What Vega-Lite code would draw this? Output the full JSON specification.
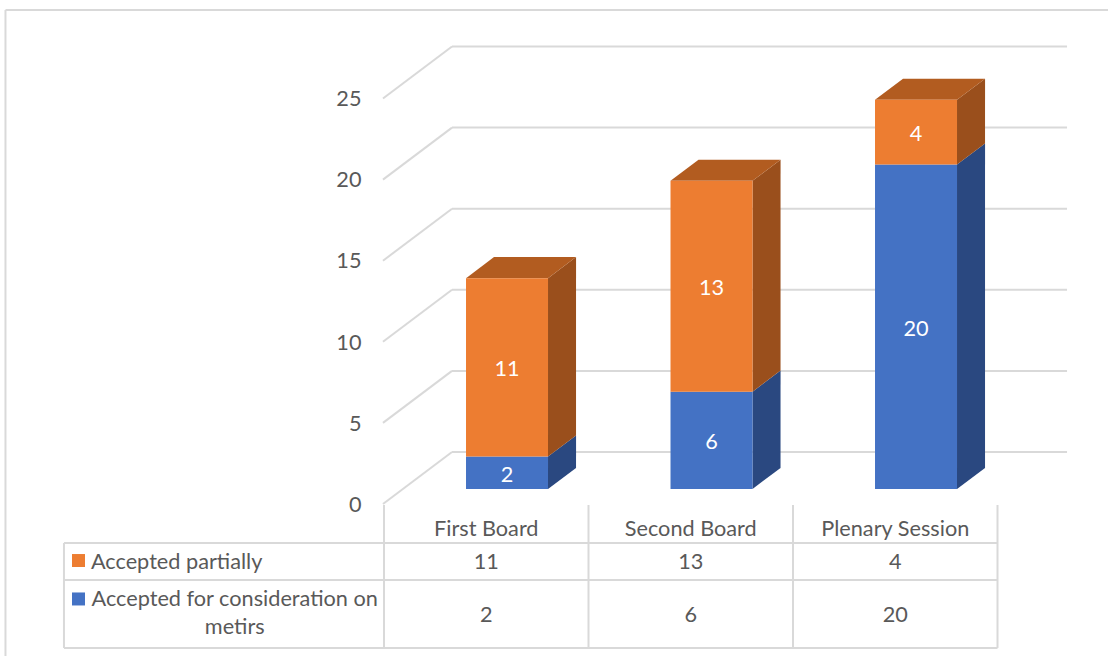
{
  "$schema": "https://vega.github.io/schema/vega-lite/v6.json",
  "width": 1108,
  "height": 656,
  "autosize": "none",
  "padding": 0,
  "background": "white",
  "config": {
    "view": {"stroke": null},
    "axis": {"disable": true},
    "legend": {"disable": true},
    "text": {"font": "Lato", "fontSize": 21.7, "color": "#595959", "baseline": "middle", "dy": 2},
    "rule": {"color": "#D9D9D9", "strokeWidth": 2}
  },
  "datasets": {
    "segments": [
      {"board": "First Board", "series": "Accepted for consideration on metirs", "value": 2},
      {"board": "First Board", "series": "Accepted partially", "value": 11},
      {"board": "Second Board", "series": "Accepted for consideration on metirs", "value": 6},
      {"board": "Second Board", "series": "Accepted partially", "value": 13},
      {"board": "Plenary Session", "series": "Accepted for consideration on metirs", "value": 20},
      {"board": "Plenary Session", "series": "Accepted partially", "value": 4}
    ],
    "levels": [{"level": 0}, {"level": 5}, {"level": 10}, {"level": 15}, {"level": 20}, {"level": 25}],
    "columns": [{"col": 0}, {"col": 1}, {"col": 2}, {"col": 3}],
    "key": [
      {"series": "Accepted partially", "label": "Accepted partially"},
      {"series": "Accepted for consideration on metirs", "label": "Accepted for consideration on\nmetirs"}
    ],
    "line": [{"part": "line"}]
  },
  "data": {"name": "segments"},
  "transform": [
    {"stack": "value", "groupby": ["board"], "sort": [{"field": "series", "order": "ascending"}], "as": ["v0", "v1"]},
    {"calculate": "indexof(['First Board','Second Board','Plenary Session'], datum.board)", "as": "slot"},
    {"calculate": "datum.slot + 0.401", "as": "x0"},
    {"calculate": "datum.slot + 0.802", "as": "x1"}
  ],
  "resolve": {"scale": {"color": "independent"}},
  "layer": [
    {
      "data": {"name": "line"},
      "mark": "rule",
      "encoding": {
        "x": {"datum": -1.851, "type": "quantitative", "scale": {"domain": [-1.8778, 3.5403], "nice": false, "zero": false}},
        "x2": {"datum": 3.5403},
        "y": {"datum": 29.53, "type": "quantitative", "scale": {"domain": [-10.296, 30.148], "nice": false, "zero": false}}
      }
    },
    {
      "data": {"name": "line"},
      "mark": "rule",
      "encoding": {
        "x": {"datum": -1.851, "type": "quantitative"},
        "y": {"datum": 29.53, "type": "quantitative"},
        "y2": {"datum": -10.296}
      }
    },
    {
      "data": {"name": "levels"},
      "transform": [
        {"calculate": "datum.level - 0.925", "as": "front"},
        {"calculate": "datum.level + 2.28", "as": "back"},
        {"calculate": "datum.level - 0.85", "as": "tickY"}
      ],
      "layer": [
        {
          "mark": "rule",
          "encoding": {
            "x": {"datum": -0.005, "type": "quantitative"},
            "x2": {"datum": 0.3325},
            "y": {"field": "front", "type": "quantitative"},
            "y2": {"field": "back"}
          }
        },
        {
          "mark": "rule",
          "encoding": {
            "x": {"datum": 0.3325, "type": "quantitative"},
            "x2": {"datum": 3.34},
            "y": {"field": "back", "type": "quantitative"}
          }
        },
        {
          "mark": {"type": "text", "align": "right"},
          "encoding": {
            "x": {"datum": -0.11, "type": "quantitative"},
            "y": {"field": "tickY", "type": "quantitative"},
            "text": {"field": "level", "type": "quantitative"}
          }
        }
      ]
    },
    {
      "transform": [
        {"calculate": "[datum.x1, datum.x1 + 0.137]", "as": "sx"},
        {"calculate": "[datum.v0, datum.v0 + 1.3]", "as": "slo"},
        {"calculate": "[datum.v1, datum.v1 + 1.3]", "as": "shi"},
        {"flatten": ["sx", "slo", "shi"]}
      ],
      "mark": {"type": "area", "interpolate": "linear"},
      "encoding": {
        "x": {"field": "sx", "type": "quantitative"},
        "y": {"field": "slo", "type": "quantitative"},
        "y2": {"field": "shi"},
        "detail": {"field": "board"},
        "color": {
          "field": "series",
          "type": "nominal",
          "scale": {"domain": ["Accepted for consideration on metirs", "Accepted partially"], "range": ["#2A4880", "#9A4F1C"]}
        }
      }
    },
    {
      "transform": [
        {"filter": "datum.series === 'Accepted partially'"},
        {"calculate": "[datum.v1, datum.v1 + 1.3]", "as": "ty"},
        {"calculate": "[datum.x0, datum.x0 + 0.137]", "as": "tlo"},
        {"calculate": "[datum.x1, datum.x1 + 0.137]", "as": "thi"},
        {"flatten": ["ty", "tlo", "thi"]}
      ],
      "mark": {"type": "area", "orient": "horizontal", "interpolate": "linear", "color": "#B25C20"},
      "encoding": {
        "y": {"field": "ty", "type": "quantitative"},
        "x": {"field": "tlo", "type": "quantitative"},
        "x2": {"field": "thi"},
        "detail": {"field": "board"}
      }
    },
    {
      "mark": "rect",
      "encoding": {
        "x": {"field": "x0", "type": "quantitative"},
        "x2": {"field": "x1"},
        "y": {"field": "v0", "type": "quantitative"},
        "y2": {"field": "v1"},
        "color": {
          "field": "series",
          "type": "nominal",
          "scale": {"domain": ["Accepted for consideration on metirs", "Accepted partially"], "range": ["#4472C4", "#ED7D31"]}
        }
      }
    },
    {
      "transform": [
        {"calculate": "(datum.x0 + datum.x1) / 2", "as": "cx"},
        {"calculate": "(datum.v0 + datum.v1) / 2", "as": "cy"}
      ],
      "mark": {"type": "text", "color": "white"},
      "encoding": {
        "x": {"field": "cx", "type": "quantitative"},
        "y": {"field": "cy", "type": "quantitative"},
        "text": {"field": "value", "type": "quantitative"}
      }
    },
    {
      "data": {"name": "columns"},
      "mark": "rule",
      "encoding": {
        "x": {"field": "col", "type": "quantitative"},
        "y": {"datum": -0.985, "type": "quantitative"},
        "y2": {"datum": -9.8}
      }
    },
    {
      "data": {"name": "line"},
      "mark": "rule",
      "encoding": {
        "x": {"datum": -1.565, "type": "quantitative"},
        "y": {"datum": -3.33, "type": "quantitative"},
        "y2": {"datum": -9.8}
      }
    },
    {
      "data": {"name": "line"},
      "mark": "rule",
      "encoding": {
        "x": {"datum": -1.565, "type": "quantitative"},
        "x2": {"datum": 3},
        "y": {"datum": -3.33, "type": "quantitative"}
      }
    },
    {
      "data": {"name": "line"},
      "mark": "rule",
      "encoding": {
        "x": {"datum": -1.565, "type": "quantitative"},
        "x2": {"datum": 3},
        "y": {"datum": -5.61, "type": "quantitative"}
      }
    },
    {
      "data": {"name": "line"},
      "mark": "rule",
      "encoding": {
        "x": {"datum": -1.565, "type": "quantitative"},
        "x2": {"datum": 3},
        "y": {"datum": -9.8, "type": "quantitative"}
      }
    },
    {
      "transform": [
        {"filter": "datum.series === 'Accepted partially'"},
        {"calculate": "datum.slot + 0.5", "as": "cell"}
      ],
      "layer": [
        {
          "mark": "text",
          "encoding": {
            "x": {"field": "cell", "type": "quantitative"},
            "y": {"datum": -2.35, "type": "quantitative"},
            "text": {"field": "board"}
          }
        },
        {
          "mark": "text",
          "encoding": {
            "x": {"field": "cell", "type": "quantitative"},
            "y": {"datum": -4.37, "type": "quantitative"},
            "text": {"field": "value", "type": "quantitative"}
          }
        }
      ]
    },
    {
      "transform": [
        {"filter": "datum.series !== 'Accepted partially'"},
        {"calculate": "datum.slot + 0.5", "as": "cell"}
      ],
      "mark": "text",
      "encoding": {
        "x": {"field": "cell", "type": "quantitative"},
        "y": {"datum": -7.65, "type": "quantitative"},
        "text": {"field": "value", "type": "quantitative"}
      }
    },
    {
      "data": {"name": "key"},
      "transform": [{"filter": "datum.series === 'Accepted partially'"}],
      "layer": [
        {
          "mark": {"type": "square", "size": 169, "opacity": 1, "color": "#ED7D31"},
          "encoding": {
            "x": {"datum": -1.494, "type": "quantitative"},
            "y": {"datum": -4.41, "type": "quantitative"}
          }
        },
        {
          "mark": {"type": "text", "align": "left"},
          "encoding": {
            "x": {"datum": -1.433, "type": "quantitative"},
            "y": {"datum": -4.37, "type": "quantitative"},
            "text": {"field": "label"}
          }
        }
      ]
    },
    {
      "data": {"name": "key"},
      "transform": [{"filter": "datum.series !== 'Accepted partially'"}],
      "layer": [
        {
          "mark": {"type": "square", "size": 169, "opacity": 1, "color": "#4472C4"},
          "encoding": {
            "x": {"datum": -1.494, "type": "quantitative"},
            "y": {"datum": -6.78, "type": "quantitative"}
          }
        },
        {
          "mark": {"type": "text", "align": "center", "lineBreak": "\n", "lineHeight": 28},
          "encoding": {
            "x": {"datum": -0.73, "type": "quantitative"},
            "y": {"datum": -6.66, "type": "quantitative"},
            "text": {"field": "label"}
          }
        }
      ]
    }
  ]
}
